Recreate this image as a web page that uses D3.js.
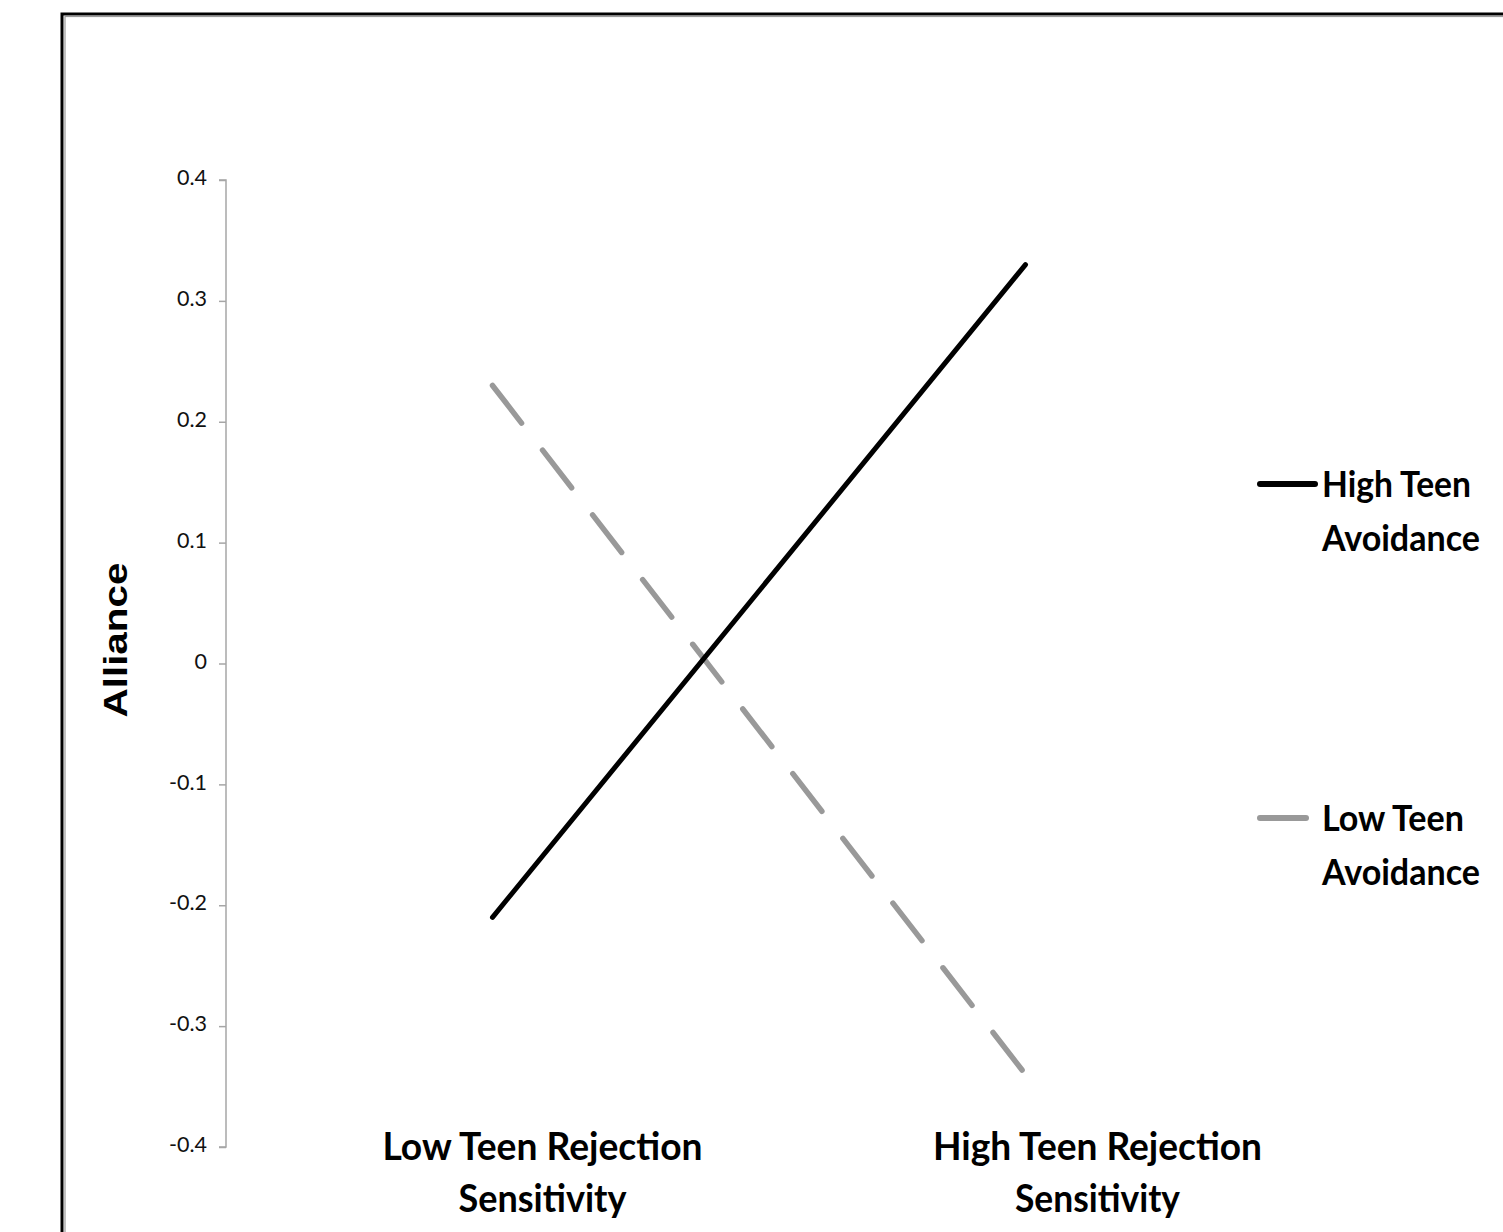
<!DOCTYPE html>
<html>
<head>
<meta charset="utf-8">
<script src="https://cdn.jsdelivr.net/npm/d3@7"></script>
<style>
html,body{margin:0;padding:0;background:#fff;overflow:hidden;}
svg{display:block;}
</style>
</head>
<body>
<svg id="chart" width="1503" height="1232"></svg>
<script>
// ---- data ----
const categories = ["Low Teen Rejection Sensitivity", "High Teen Rejection Sensitivity"];
const categoryLines = [["Low Teen Rejection", "Sensitivity"], ["High Teen Rejection", "Sensitivity"]];
const seriesNames = ["High Teen Avoidance", "Low Teen Avoidance"];
const legendLines = [["High Teen", "Avoidance"], ["Low Teen", "Avoidance"]];
const highAvoidance = [-0.21, 0.33];
const lowAvoidance = [0.23, -0.34];
const yTicks = [0.4, 0.3, 0.2, 0.1, 0, -0.1, -0.2, -0.3, -0.4];
const yTickLabels = ["0.4", "0.3", "0.2", "0.1", "0", "-0.1", "-0.2", "-0.3", "-0.4"];
const yTitle = "Alliance";

// ---- layout ----
const svg = d3.select("#chart");
const plot = {left: 226, right: 1292, top: 180, bottom: 1147};
const x = d3.scaleBand().domain(categories).range([plot.left, plot.right]);
const y = d3.scaleLinear().domain([-0.4, 0.4]).range([plot.bottom, plot.top]);
const xc = c => x(c) + x.bandwidth() / 2;
const labelShift = [50, 72];
const labelWidths = [[320, 168], [329, 165]];

// frame
svg.append("rect").attr("x", 62).attr("y", 14).attr("width", 1600).attr("height", 1400)
  .attr("fill", "none").attr("stroke", "#000").attr("stroke-width", 3);
svg.append("rect").attr("x", 65).attr("y", 16.5).attr("width", 1600).attr("height", 1400)
  .attr("fill", "none").attr("stroke", "#9a9a9a").attr("stroke-width", 1.2);

// y axis
const yAxis = d3.axisLeft(y).tickValues(yTicks).tickSize(7).tickPadding(12)
  .tickFormat((d, i) => yTickLabels[i]);
const gy = svg.append("g").attr("transform", `translate(${plot.left},0)`).call(yAxis);
gy.select(".domain").attr("stroke", "#a6a6a6").attr("stroke-width", 1.5)
  .attr("d", `M-7,${plot.top}H0V${plot.bottom}H-7`);
gy.selectAll(".tick line").attr("stroke", "#a6a6a6").attr("stroke-width", 1.5);
gy.selectAll(".tick text").attr("font-family", "Lato, 'Open Sans', sans-serif")
  .attr("font-size", 21.5).attr("fill", "#111").attr("dy", "0.22em");

// y title
svg.append("text").attr("transform", `translate(127,640) rotate(-90)`)
  .attr("text-anchor", "middle").attr("font-family", "'Liberation Sans', Arial, sans-serif")
  .attr("font-weight", "bold").attr("font-size", 33).attr("fill", "#000")
  .attr("textLength", 155).attr("lengthAdjust", "spacingAndGlyphs").text(yTitle);

// category labels
categories.forEach((c, i) => {
  categoryLines[i].forEach((t, j) => {
    svg.append("text").attr("x", xc(c) + labelShift[i]).attr("y", 1160 + j * 52)
      .attr("text-anchor", "middle").attr("font-family", "Lato, 'Open Sans', sans-serif")
      .attr("font-weight", "bold").attr("font-size", 39).attr("fill", "#000")
      .attr("textLength", labelWidths[i][j]).attr("lengthAdjust", "spacingAndGlyphs").text(t);
  });
});

// lines
const line = d3.line().x((d, i) => xc(categories[i])).y(d => y(d));
svg.append("path").datum(lowAvoidance).attr("d", line).attr("fill", "none")
  .attr("stroke", "#999999").attr("stroke-width", 5.5).attr("stroke-linecap", "round")
  .attr("stroke-dasharray", "47.5,34.3");
svg.append("path").datum(highAvoidance).attr("d", line).attr("fill", "none")
  .attr("stroke", "#000").attr("stroke-width", 5).attr("stroke-linecap", "round");

// legend
const legendY = [484, 818];
const legendLineEnd = [1315, 1306];
const legendStyles = [{stroke: "#000"}, {stroke: "#999999"}];
const legendTextW = [[149, 158], [142, 158]];
seriesNames.forEach((s, i) => {
  svg.append("line").attr("x1", 1260).attr("x2", legendLineEnd[i])
    .attr("y1", legendY[i]).attr("y2", legendY[i])
    .attr("stroke", legendStyles[i].stroke).attr("stroke-width", 6).attr("stroke-linecap", "round");
  legendLines[i].forEach((t, j) => {
    svg.append("text").attr("x", 1322).attr("y", legendY[i] + 13 + j * 54)
      .attr("font-family", "Lato, 'Open Sans', sans-serif").attr("font-weight", "bold")
      .attr("font-size", 37).attr("fill", "#000")
      .attr("textLength", legendTextW[i][j]).attr("lengthAdjust", "spacingAndGlyphs").text(t);
  });
});
</script>
</body>
</html>
